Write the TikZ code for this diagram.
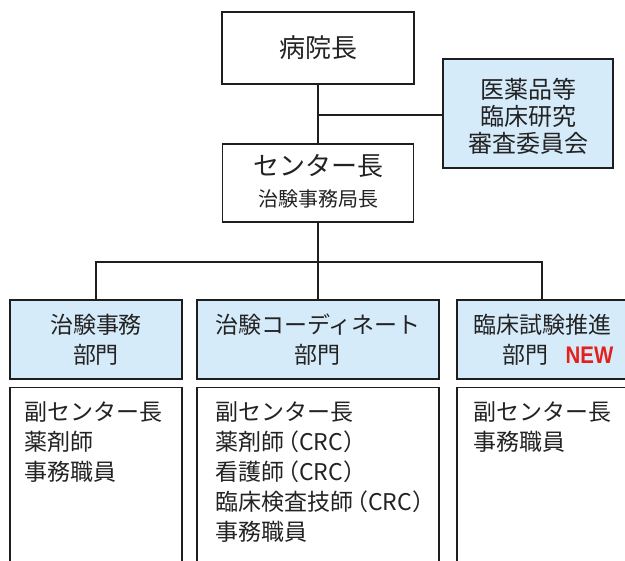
\documentclass[tikz,border=0pt]{standalone}
\usepackage{fontspec}
\setmainfont{Noto Sans CJK JP}
\newfontfamily\newfnt[FakeStretch=0.85]{Liberation Sans}
\definecolor{lblue}{RGB}{214,235,250}
\definecolor{txt}{RGB}{35,35,35}
\definecolor{newred}{RGB}{228,32,28}
\definecolor{bord}{RGB}{30,30,30}
\newcommand{\crc}{\kern-8pt（CRC）}
\tikzset{
  plainbox/.style={draw=bord, line width=1.5pt, fill=white, inner sep=0pt, align=center, text=txt},
  bluebox/.style={draw=bord, line width=2.8pt, fill=lblue, inner sep=0pt, align=center, text=txt},
  listbox/.style={draw=bord, line width=1.5pt, fill=white, inner sep=0pt},
  plaintext/.style={inner sep=0pt, align=center, text=txt},
  listtext/.style={anchor=north west, inner sep=0pt, align=left, text=txt, font=\fontsize{23}{30}\selectfont},
  conn/.style={draw=bord, line width=2.6pt}
}
\begin{document}
\begin{tikzpicture}[x=1pt,y=-1pt]
\useasboundingbox (0,0) rectangle (625,561);
% top
\node[plainbox, minimum width=192pt, minimum height=72pt, font=\fontsize{26}{30}\selectfont] (head) at (318,48) {病院長};
\node[bluebox, minimum width=170pt, minimum height=109pt] (comm) at (528,113.5) {};
\node[plaintext, font=\fontsize{24}{27}\selectfont] (commtext) at (528,116.5) {医薬品等\\臨床研究\\審査委員会};
\node[plainbox, minimum width=191pt, minimum height=78pt] (center) at (318,183) {};
\node[plaintext, font=\fontsize{26}{30}\selectfont] (ctitle) at (318,166) {センター長};
\node[plaintext, font=\fontsize{20}{23}\selectfont] (csub) at (318,199) {治験事務局長};
% departments
\node[bluebox, minimum width=172pt, minimum height=79pt, font=\fontsize{23}{30}\selectfont] (d1) at (96,339.5) {治験事務\\部門};
\node[bluebox, minimum width=242pt, minimum height=79pt, font=\fontsize{23}{30}\selectfont] (d2) at (318,339.5) {治験コーディネート\\部門};
\node[bluebox, minimum width=170pt, minimum height=79pt, font=\fontsize{23}{30}\selectfont] (d3) at (542,339.5) {臨床試験推進\\\hspace*{32pt}部門\hspace{17pt}{\fontsize{24}{30}\newfnt\bfseries\color{newred}NEW}};
% lists
\node[listbox, minimum width=172pt, minimum height=190pt, anchor=north] (l1) at (96,387) {};
\node[listbox, minimum width=242pt, minimum height=190pt, anchor=north] (l2) at (318,387) {};
\node[listbox, minimum width=170pt, minimum height=190pt, anchor=north] (l3) at (542,387) {};
\node[listtext] (t1) at (24,401) {副センター長\\薬剤師\\事務職員};
\node[listtext] (t2) at (215,401) {副センター長\\薬剤師\crc\\看護師\crc\\臨床検査技師\crc\\事務職員};
\node[listtext] (t3) at (473,401) {副センター長\\事務職員};
% connectors
\coordinate (j1) at (318,115);
\coordinate (bus) at (318,262);
\draw[conn] (head.south) -- (center.north);
\draw[conn] (j1) -- (comm.west |- j1);
\draw[conn] (center.south) -- (bus);
\draw[conn] (d1.north) |- (bus) -| (d3.north);
\draw[conn] (bus) -- (d2.north);
\end{tikzpicture}
\end{document}
